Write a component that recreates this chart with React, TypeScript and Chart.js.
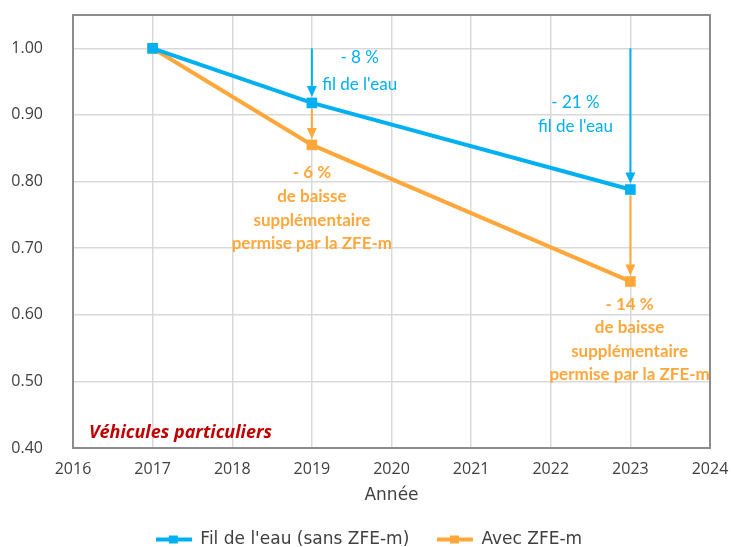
import React, { useEffect, useRef } from "react";
import { Chart, registerables } from "chart.js";

Chart.register(...registerables);

const years = [2017, 2019, 2023];
const filDeLeau = [1.0, 0.918, 0.788];
const avecZfe = [1.0, 0.855, 0.65];
const yTickValues = [0.4, 0.5, 0.6, 0.7, 0.8, 0.9, 1.0];
const seriesLabels = ["Fil de l'eau (sans ZFE-m)", "Avec ZFE-m"];
const blueNotes2019 = ["- 8 %", "fil de l'eau"];
const blueNotes2023 = ["- 21 %", "fil de l'eau"];
const orangeNotes2019 = ["- 6 %", "de baisse", "supplémentaire", "permise par la ZFE-m"];
const orangeNotes2023 = ["- 14 %", "de baisse", "supplémentaire", "permise par la ZFE-m"];
const panelTitle = "Véhicules particuliers";

const BLUE = "#00B0F0";
const ORANGE = "#FFA73B";
const TEXT = "#404040";
const TICK_FONT = "'Open Sans', sans-serif";
const LEGEND_FONT = "'DejaVu Sans', sans-serif";
const NOTE_FONT = "Lato, sans-serif";

function legendIcon(color: string) {
  const c = document.createElement("canvas");
  c.width = 36;
  c.height = 10;
  const ctx = c.getContext("2d")!;
  ctx.strokeStyle = color;
  ctx.lineWidth = 4;
  ctx.beginPath();
  ctx.moveTo(0, 5);
  ctx.lineTo(36, 5);
  ctx.stroke();
  ctx.fillStyle = color;
  ctx.fillRect(13, 1, 9, 8);
  return c;
}

function drawArrow(ctx: CanvasRenderingContext2D, x: number, y0: number, y1: number, color: string) {
  ctx.save();
  ctx.strokeStyle = color;
  ctx.fillStyle = color;
  ctx.lineWidth = 2;
  ctx.beginPath();
  ctx.moveTo(x, y0);
  ctx.lineTo(x, y1 - 10);
  ctx.stroke();
  ctx.beginPath();
  ctx.moveTo(x - 5, y1 - 11);
  ctx.lineTo(x + 5, y1 - 11);
  ctx.lineTo(x, y1);
  ctx.closePath();
  ctx.fill();
  ctx.restore();
}

function drawLines(ctx: CanvasRenderingContext2D, lines: string[], x: number, y: number, gap: number, color: string, bold: boolean) {
  ctx.save();
  ctx.fillStyle = color;
  ctx.textAlign = "center";
  ctx.textBaseline = "middle";
  ctx.font = (bold ? "bold " : "") + "17px " + NOTE_FONT;
  lines.forEach((t, i) => ctx.fillText(t, x, y + i * gap));
  ctx.restore();
}

const annotations = {
  id: "annotations",
  afterLayout(chart: any) {
    if (chart.legend) {
      chart.legend.left += 10;
      chart.legend.right += 10;
    }
  },
  beforeDatasetsDraw(chart: any) {
    const { ctx, scales } = chart;
    const xs = scales.x;
    const ys = scales.y;
    const a = chart.chartArea;
    ctx.save();
    ctx.strokeStyle = "#8C8C8C";
    ctx.lineWidth = 2;
    ctx.strokeRect(a.left, a.top, a.right - a.left, a.bottom - a.top);
    ctx.restore();
    [1, 2].forEach((i) => {
      const x = xs.getPixelForValue(years[i]);
      drawArrow(ctx, x, ys.getPixelForValue(filDeLeau[0]), ys.getPixelForValue(filDeLeau[i]) - 6, BLUE);
      drawArrow(ctx, x, ys.getPixelForValue(filDeLeau[i]) + 6, ys.getPixelForValue(avecZfe[i]) - 6, ORANGE);
    });
  },
  afterDatasetsDraw(chart: any) {
    const { ctx, scales } = chart;
    const xs = scales.x;
    const ys = scales.y;
    drawLines(ctx, blueNotes2019, xs.getPixelForValue(2019.6), ys.getPixelForValue(0.986), 27, BLUE, false);
    drawLines(ctx, blueNotes2023, xs.getPixelForValue(2022.31), ys.getPixelForValue(0.9186), 23.5, BLUE, false);
    drawLines(ctx, orangeNotes2019, xs.getPixelForValue(2019), ys.getPixelForValue(0.813), 23.7, ORANGE, true);
    drawLines(ctx, orangeNotes2023, xs.getPixelForValue(2022.99), ys.getPixelForValue(0.6154), 23.3, ORANGE, true);
    ctx.save();
    ctx.fillStyle = "#C00000";
    ctx.font = "italic bold 18px 'Open Sans', sans-serif";
    ctx.textAlign = "left";
    ctx.textBaseline = "middle";
    ctx.fillText(panelTitle, xs.getPixelForValue(2016.2), ys.getPixelForValue(0.4223));
    ctx.restore();
  },
};

export default function App() {
  const ref = useRef<HTMLCanvasElement | null>(null);
  useEffect(() => {
    if (!ref.current) return;
    const colors = [BLUE, ORANGE];
    const icons = colors.map(legendIcon);
    const legendTexts = [seriesLabels[0] + "    ", seriesLabels[1]];
    const chart = new Chart(ref.current, {
      type: "line",
      data: {
        datasets: [filDeLeau, avecZfe].map((vals, i) => ({
          label: seriesLabels[i],
          data: years.map((y, j) => ({ x: y, y: vals[j] })),
          borderColor: colors[i],
          backgroundColor: colors[i],
          borderWidth: 4,
          pointStyle: "rect",
          pointRadius: 7.5,
          pointBorderWidth: 0,
          tension: 0,
        })),
      },
      options: {
        animation: false,
        responsive: true,
        maintainAspectRatio: false,
        layout: { padding: { left: 8, right: 21, top: 15, bottom: -11 } },
        scales: {
          x: {
            type: "linear",
            min: 2016,
            max: 2024,
            afterFit: (scale: any) => {
              scale.height = 77;
              scale.paddingLeft = 0;
              scale.paddingRight = 0;
            },
            ticks: {
              stepSize: 1,
              color: TEXT,
              padding: 12,
              font: { family: TICK_FONT, size: 16 },
              callback: (v: any) => String(v),
            },
            grid: { color: "#D9D9D9", lineWidth: 1.5, drawTicks: false },
            border: { display: false },
            title: {
              display: true,
              text: "Année",
              color: TEXT,
              font: { family: LEGEND_FONT, size: 17 },
              padding: { top: 4, bottom: 19.5 },
            },
          },
          y: {
            type: "linear",
            min: 0.4,
            max: 1.05,
            afterBuildTicks: (scale: any) => {
              scale.ticks = yTickValues.map((v) => ({ value: v }));
            },
            afterFit: (scale: any) => {
              scale.width = 65;
              scale.paddingTop = 0;
              scale.paddingBottom = 0;
            },
            ticks: {
              color: TEXT,
              padding: 30,
              font: { family: TICK_FONT, size: 16 },
              callback: (v: any) => Number(v).toFixed(2),
            },
            grid: { color: "#D9D9D9", lineWidth: 1.5, drawTicks: false },
            border: { display: false },
          },
        },
        plugins: {
          legend: {
            position: "bottom",
            labels: {
              usePointStyle: true,
              pointStyleWidth: 36,
              color: TEXT,
              padding: 6,
              font: { family: LEGEND_FONT, size: 17 },
              generateLabels: () =>
                legendTexts.map((t, i) => ({
                  text: t,
                  fillStyle: colors[i],
                  strokeStyle: colors[i],
                  pointStyle: icons[i] as any,
                  datasetIndex: i,
                  hidden: false,
                  lineWidth: 0,
                  fontColor: TEXT,
                })),
            },
          },
          tooltip: { enabled: false },
        },
      } as any,
      plugins: [annotations],
    });
    return () => chart.destroy();
  }, []);
  return (
    <div style={{ position: "fixed", left: 0, top: 0, width: 731, height: 547, background: "#fff" }}>
      <canvas ref={ref} />
    </div>
  );
}
